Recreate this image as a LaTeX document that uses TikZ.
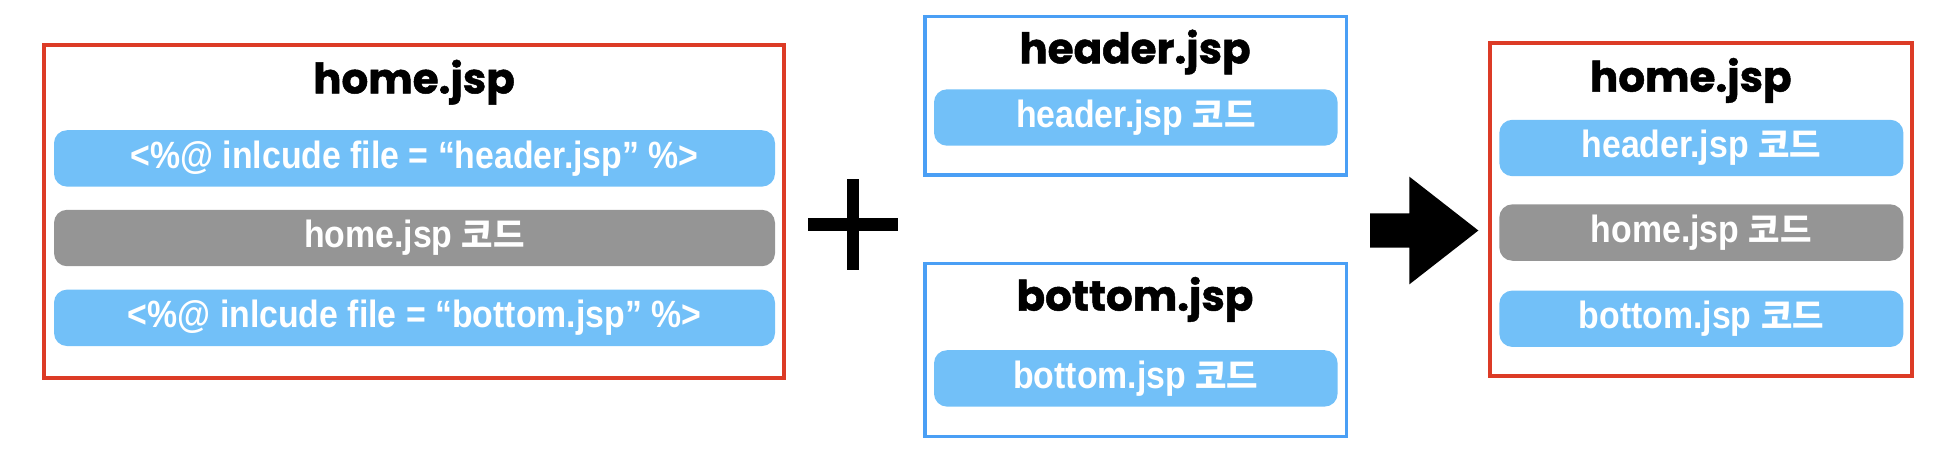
\documentclass[tikz,border=0pt]{standalone}
\usepackage{fontspec}
\setmainfont{Liberation Sans}[FakeStretch=0.89]
\newfontfamily\titlefont{Poppins}[BoldFeatures={FakeBold=1.2}]
\newfontfamily\krfont{Noto Sans CJK KR}[Scale=0.9]
\usetikzlibrary{positioning}
\definecolor{homered}{HTML}{DC3B26}
\definecolor{partblue}{HTML}{4A9FF5}
\definecolor{barblue}{HTML}{72C0F8}
\definecolor{bargray}{HTML}{959595}
\newcommand{\kr}[1]{{\krfont #1}}

\begin{document}
\begin{tikzpicture}[
    x=1pt, y=1pt,
    font=\bfseries\fontsize{19}{22}\selectfont,
    % jsp file frames
    homeframe/.style={
        draw=homered, line width=2pt,
        minimum height=166.35pt, inner sep=0
    },
    partframe/.style={
        draw=partblue, line width=1.75pt, inner sep=0
    },
    % file name on top of each frame
    filetitle/.style={
        anchor=base,
        font=\titlefont\bfseries\fontsize{21}{24}\selectfont
    },
    % code blocks
    codebar/.style={
        rectangle, rounded corners=6.5pt,
        fill=barblue, text=white,
        minimum height=28.2pt, inner sep=0
    },
    homebar/.style={codebar, fill=bargray},
    % plus sign
    bigplus/.style={line width=6.3pt}
]

\useasboundingbox (0,0) rectangle (976,-226);

% home.jsp before the include
\node[homeframe, minimum width=369.85pt] (homeSrc) at (206.9,-105.8) {};
\node[filetitle] (homeSrcTitle) at (207,-46.7) {home.jsp};
\node[codebar, minimum width=360.5pt] (incHeader) at (207.25,-79.2) {<\%@ inlcude file = “header.jsp” \%>};
\node[homebar, minimum width=360.5pt, below=11.2pt of incHeader] (homeCode) {home.jsp \kr{코드}};
\node[codebar, minimum width=360.5pt, below=11.3pt of homeCode] (incBottom) {<\%@ inlcude file = “bottom.jsp” \%>};

% plus
\coordinate (plusCenter) at (426.5,-112.3);
\draw[bigplus] ([xshift=-22.35pt]plusCenter) -- ([xshift=22.35pt]plusCenter);
\draw[bigplus] ([yshift=22.67pt]plusCenter) -- ([yshift=-22.67pt]plusCenter);

% included files
\node[partframe, minimum width=210.8pt, minimum height=79.35pt] (header) at (567.9,-47.8) {};
\node[filetitle] (headerTitle) at (567.5,-31.65) {header.jsp};
\node[codebar, minimum width=201.8pt] (headerCode) at (567.9,-58.75) {header.jsp \kr{코드}};

\node[partframe, minimum width=210.8pt, minimum height=86.5pt] (bottom) at (567.9,-175.1) {};
\node[filetitle] (bottomTitle) at (567.5,-155.3) {bottom.jsp};
\node[codebar, minimum width=201.8pt] (bottomCode) at (567.9,-189.2) {bottom.jsp \kr{코드}};

% result arrow
\coordinate (arrowTail) at (685,-115.25);
\fill (arrowTail) ++(0,8.58) -- ++(19.67,0) -- ++(0,18.34) -- ++(34.5,-26.92)
    -- ++(-34.5,-26.92) -- ++(0,18.34) -- ++(-19.67,0) -- cycle;

% home.jsp after the include
\node[homeframe, minimum width=210.85pt] (homeOut) at (850.6,-104.7) {};
\node[filetitle] (homeOutTitle) at (845.4,-45.8) {home.jsp};
\node[codebar, minimum width=202pt] (outHeader) at (850.67,-74) {header.jsp \kr{코드}};
\node[homebar, minimum width=202pt, below=13.67pt of outHeader] (outHome) {home.jsp \kr{코드}};
\node[codebar, minimum width=202pt, below=14.5pt of outHome] (outBottom) {bottom.jsp \kr{코드}};

\end{tikzpicture}
\end{document}
